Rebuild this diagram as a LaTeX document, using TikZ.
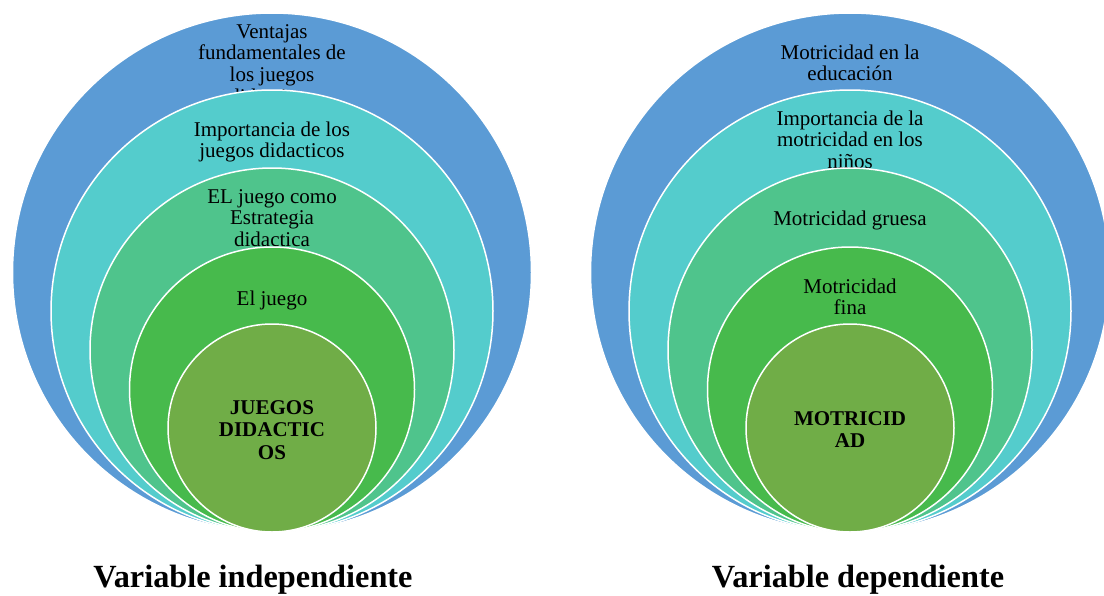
\documentclass[tikz,border=0pt]{standalone}
\usepackage{fontspec}
\setmainfont{Liberation Serif}
\usepackage{tikz}
\definecolor{ringblue}{RGB}{91,155,213}
\definecolor{ringteal}{RGB}{84,204,204}
\definecolor{ringmint}{RGB}{79,196,140}
\definecolor{ringgreen}{RGB}{71,186,76}
\definecolor{ringolive}{RGB}{112,173,71}
\tikzset{
  ring/.style={circle,draw=white,line width=1.5pt,inner sep=0pt,minimum size=#1},
  ringtxt/.style={align=center,inner sep=0pt,anchor=base,font=\fontsize{21}{21.7}\selectfont},
  coretxt/.style={align=center,inner sep=0pt,anchor=base,font=\fontsize{21}{22.5}\selectfont\bfseries},
  vartitle/.style={inner sep=0pt,anchor=base,font=\fontsize{32.3}{36}\selectfont\bfseries}
}

\begin{document}
\begin{tikzpicture}[x=1pt,y=-1pt]
  \useasboundingbox (0,0) rectangle (1104,595);
  \clip (0,0) rectangle (1104,595);

  % independent variable (text nodes sit on the baseline of their last line)
  \node[ring=519pt,fill=ringblue] (lA) at (272,272.5) {};
  \node[ringtxt] (ltA) at (272,103.1) {Ventajas\\fundamentales de\\los juegos\\didacticos};
  \node[ring=442pt,fill=ringteal] (lB) at (272,311) {};
  \node[ringtxt] (ltB) at (272,157.7) {Importancia de los\\juegos didacticos};
  \node[ring=364pt,fill=ringmint] (lC) at (272,350) {};
  \node[ringtxt] (ltC) at (272,246.4) {EL juego como\\Estrategia\\didactica};
  \node[ring=285pt,fill=ringgreen] (lD) at (272,389.5) {};
  \node[ringtxt] (ltD) at (272,305) {El juego};
  \node[ring=208pt,fill=ringolive] (lE) at (272,428) {};
  \node[coretxt] (ltE) at (272,459) {JUEGOS\\DIDACTIC\\OS};

  % dependent variable
  \node[ring=519pt,fill=ringblue] (rA) at (850,272.5) {};
  \node[ringtxt] (rtA) at (850,80.7) {Motricidad en la\\educación};
  \node[ring=442pt,fill=ringteal] (rB) at (850,311) {};
  \node[ringtxt] (rtB) at (850,168.4) {Importancia de la\\motricidad en los\\niños};
  \node[ring=364pt,fill=ringmint] (rC) at (850,350) {};
  \node[ringtxt] (rtC) at (850,225) {Motricidad gruesa};
  \node[ring=285pt,fill=ringgreen] (rD) at (850,389.5) {};
  \node[ringtxt] (rtD) at (850,314.7) {Motricidad\\fina};
  \node[ring=208pt,fill=ringolive] (rE) at (850,428) {};
  \node[coretxt] (rtE) at (850,447.5) {MOTRICID\\AD};

  \node[vartitle] (indep) at (253,587) {Variable independiente};
  \node[vartitle] (dep) at (858,587) {Variable dependiente};
\end{tikzpicture}
\end{document}
